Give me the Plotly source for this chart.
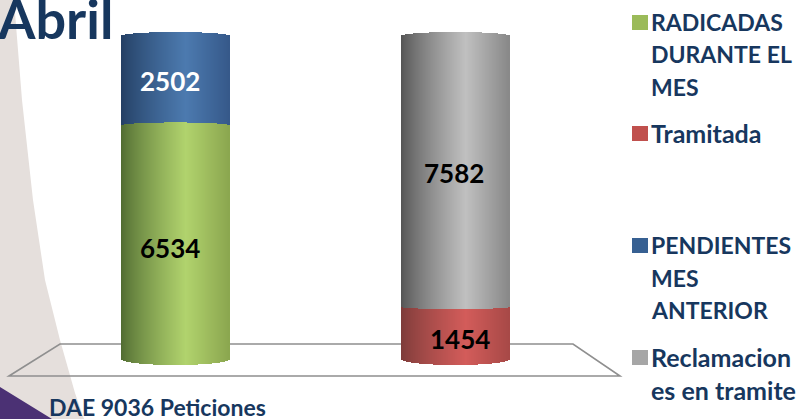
import math
import plotly.graph_objects as go

W, H = 802, 419

# ---- data ----
categories = ["Peticiones", "Reclamaciones"]
radicadas = [6534, None]
tramitada = [None, 1454]
pendientes = [2502, None]
reclamaciones = [None, 7582]

# ---- style / layout ----
NAVY = "#17375e"
BAR_PX = 108
PX_PER_CAT = 280
ZERO_X_PX = 176
ZERO_Y_PX = 359
UNITS_PER_PX = 9036 / 323
N = BAR_PX
TOP_DOME = 4 * UNITS_PER_PX
BOT_DOME = 6 * UNITS_PER_PX
JOIN_DOME = 3 * UNITS_PER_PX

PAL = {
    "green": ("#4f6a31", "#b1d36d", "#8ba64f"),
    "red": ("#7b3b39", "#d35c5a", "#a84947"),
    "blue": ("#233e62", "#4c7aaf", "#36598a"),
    "gray": ("#535353", "#c0c0c0", "#888888"),
}


def rgb(h):
    return [int(h[i:i + 2], 16) for i in (1, 3, 5)]


def shade(name, u):
    a, b, c = [rgb(x) for x in PAL[name]]
    peak = 0.6
    if u < peak:
        t = u / peak
        t = t ** 0.8
        m = [a[i] + (b[i] - a[i]) * t for i in range(3)]
    else:
        t = (u - peak) / (1 - peak)
        m = [b[i] + (c[i] - b[i]) * t for i in range(3)]
    return "rgb(%d,%d,%d)" % tuple(round(v) for v in m)


def cylinder(cat, low, high, low_dome, high_dome, name, pal):
    xs, base, height, cols = [], [], [], []
    for i in range(N):
        u = (i + 0.5) / N
        arc = math.sqrt(max(0.0, 1 - (2 * u - 1) ** 2))
        bottom = low + low_dome * arc
        top = high + high_dome * arc
        xs.append(cat - 0.5 * BAR_PX / PX_PER_CAT + (i + 0.5) / PX_PER_CAT)
        base.append(bottom)
        height.append(top - bottom)
        cols.append(shade(pal, u))
    return go.Bar(x=xs, y=height, base=base, width=1.02 / PX_PER_CAT, name=name,
                  marker=dict(color=cols, line=dict(width=0)), showlegend=False,
                  hoverinfo="skip")


fig = go.Figure()
fig.add_trace(cylinder(0, radicadas[0] - 200, radicadas[0] + pendientes[0], 0, TOP_DOME,
                       "PENDIENTES MES ANTERIOR", "blue"))
fig.add_trace(cylinder(0, 0, radicadas[0], -BOT_DOME, JOIN_DOME, "RADICADAS DURANTE EL MES", "green"))
fig.add_trace(cylinder(1, 0, tramitada[1], -BOT_DOME, 0, "Tramitada", "red"))
fig.add_trace(cylinder(1, tramitada[1], tramitada[1] + reclamaciones[1], -2 * UNITS_PER_PX, TOP_DOME,
                       "Reclamaciones en tramite", "gray"))


def pxx(x):
    return x / W


def pxy(y):
    return 1 - y / H


def path(points, close=True):
    s = "M " + " L ".join(f"{pxx(x):.5f},{pxy(y):.5f}" for x, y in points)
    return s + (" Z" if close else "")


shapes = [
    dict(type="path", xref="paper", yref="paper", layer="below", line_width=0, fillcolor="#e5dfdc",
         path=path([(0, 0), (14, 0), (18, 50), (22, 100), (33, 200), (45, 280), (60, 340),
                    (75, 393), (84, 419), (0, 419)])),
    dict(type="path", xref="paper", yref="paper", layer="below", line_width=0, fillcolor="#4b3174",
         path=path([(0, 387), (52, 419), (0, 419)])),
    dict(type="path", xref="paper", yref="paper", layer="below",
         line=dict(color="#8f8f8f", width=1.6),
         path=path([(9, 376), (60, 344), (573, 344), (620, 376)])),
]

legend_items = [
    ("#9bbb59", 22, ["RADICADAS", "DURANTE EL", "MES"]),
    ("#c0504d", 133, ["Tramitada"]),
    ("#376092", 245, ["PENDIENTES", "MES", "ANTERIOR"]),
    ("#a6a6a6", 357, ["Reclamacion", "es en tramite"]),
]
ann = []
for col, y0, lines in legend_items:
    shapes.append(dict(type="rect", xref="paper", yref="paper", layer="above", line_width=0,
                       fillcolor=col, x0=pxx(632), x1=pxx(648), y0=pxy(y0 - 7), y1=pxy(y0 + 8)))
    for i, line in enumerate(lines):
        size = 23 if line.isupper() else 25
        ann.append(dict(text=f"<b>{line}</b>", xref="paper", yref="paper", x=pxx(649), y=pxy(y0 + i * 32.5),
                        xanchor="left", yanchor="middle", showarrow=False,
                        font=dict(family="Lato", size=size, color=NAVY)))


def value_label(cat, mid, text, color, dx, dy):
    return dict(text=f"<b>{text}</b>", x=cat, y=mid, xref="x", yref="y", xshift=dx, yshift=dy,
                showarrow=False, font=dict(family="Lato", size=26, color=color))


ann += [
    value_label(0, radicadas[0] + pendientes[0] / 2, pendientes[0], "#ffffff", -6, 0),
    value_label(0, radicadas[0] / 2, radicadas[0], "#000000", -6, -6),
    value_label(1, tramitada[1] + reclamaciones[1] / 2, reclamaciones[1], "#000000", -2, -1),
    value_label(1, tramitada[1] / 2, tramitada[1], "#000000", 4, -6),
    dict(text="<b>Abril</b>", xref="paper", yref="paper", x=pxx(-5), y=pxy(19), xanchor="left",
         yanchor="middle", showarrow=False, font=dict(family="Lato", size=54, color=NAVY)),
    dict(text="<b>DAE 9036 Peticiones</b>", xref="paper", yref="paper", x=pxx(47), y=pxy(407),
         xanchor="left", yanchor="middle", showarrow=False, font=dict(family="Lato", size=23, color=NAVY)),
]

fig.update_layout(
    width=W, height=H, autosize=False, margin=dict(l=0, r=0, t=0, b=0),
    paper_bgcolor="#ffffff", plot_bgcolor="rgba(0,0,0,0)",
    barmode="overlay", bargap=0, showlegend=False,
    shapes=shapes, annotations=ann,
    xaxis=dict(visible=False, fixedrange=True,
               range=[-ZERO_X_PX / PX_PER_CAT, (W - ZERO_X_PX) / PX_PER_CAT]),
    yaxis=dict(visible=False, fixedrange=True,
               range=[-(H - ZERO_Y_PX) * UNITS_PER_PX, ZERO_Y_PX * UNITS_PER_PX]),
)
fig.write_html("out.html", config=dict(displayModeBar=False),
               post_script="document.body.style.margin='0';document.body.style.overflow='hidden';")
